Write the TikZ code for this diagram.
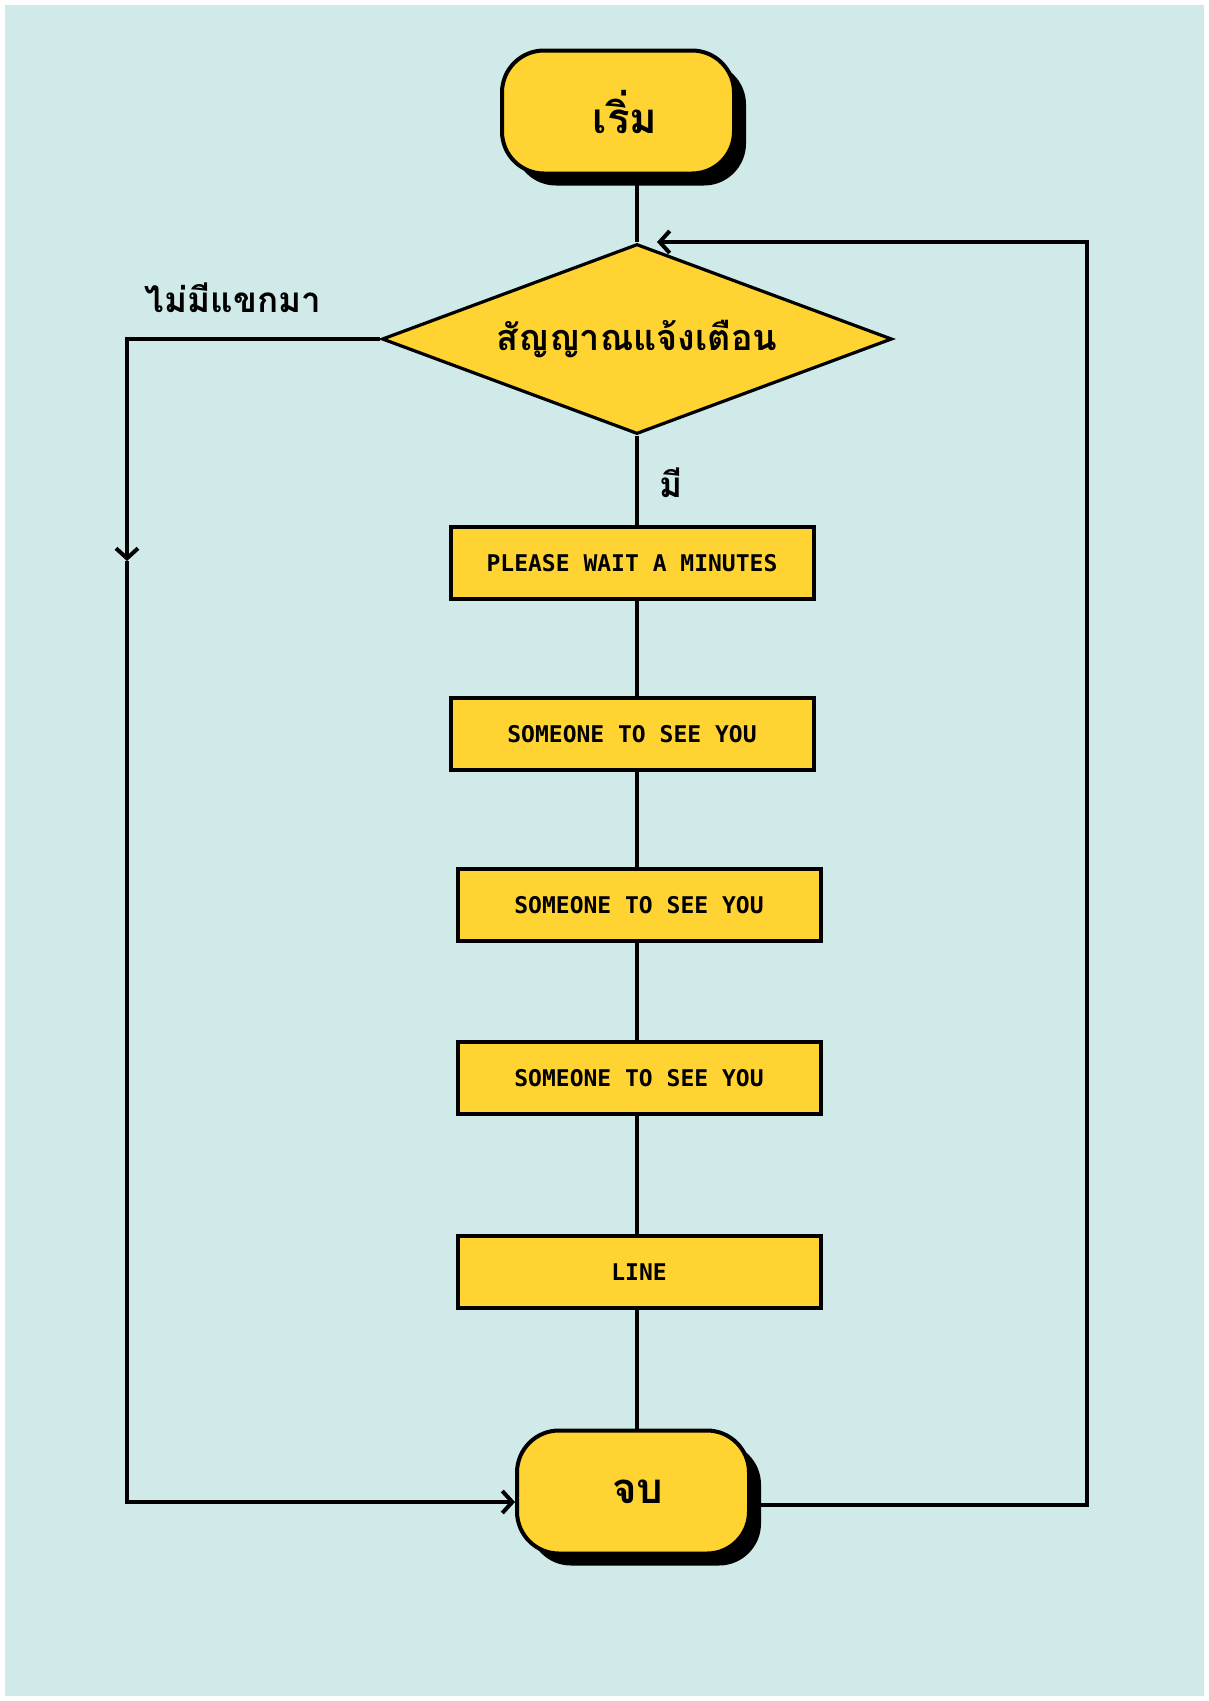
\documentclass[tikz,border=0pt]{standalone}
\usepackage{fontspec}
\usetikzlibrary{shapes.geometric,shadows,arrows.meta}
\newfontfamily\thaifont[Script=Thai]{Loma}
\newfontfamily\lcdfont{DejaVu Sans Mono}
\definecolor{bgcyan}{RGB}{208,234,234}
\definecolor{boxyellow}{RGB}{255,211,49}
\begin{document}
\begin{tikzpicture}[x=1pt, y=-1pt, line width=4pt, >={Straight Barb[length=10pt,width=22pt]},
  term node/.style={rounded corners=42pt, draw, fill=boxyellow, minimum width=232pt, minimum height=123pt,
    drop shadow={shadow xshift=12pt, shadow yshift=-12pt, fill=black, opacity=1}, font=\thaifont\bfseries\fontsize{42}{50}\selectfont},
  check node/.style={diamond, draw, fill=boxyellow, minimum width=510pt, minimum height=190pt, inner sep=0pt, line width=3.2pt,
    label={[font=\thaifont\bfseries\fontsize{36}{44}\selectfont]center:#1}},
  work node/.style={rectangle, draw, fill=boxyellow, minimum width=363pt, minimum height=72pt, inner sep=0pt,
    font=\lcdfont\bfseries\fontsize{23}{28}\selectfont},
  side label/.style={font=\thaifont\bfseries\fontsize{35}{44}\selectfont}]
\useasboundingbox (0,0) rectangle (1209,1701);
\fill[bgcyan] (5,5) rectangle (1204,1696);
% main column
\node [term node](start) at (618,112) {\hspace*{14pt}เริ่ม};
\node [check node={สัญญาณแจ้งเตือน}](alarm) at (637,339) {};
\node [work node](w1) at (632,563) {PLEASE WAIT A MINUTES};
\node [work node](w2) at (632,734) {SOMEONE TO SEE YOU};
\node [work node](w3) at (639,905) {SOMEONE TO SEE YOU};
\node [work node](w4) at (639,1078) {SOMEONE TO SEE YOU};
\node [work node](w5) at (639,1272) {LINE};
\node [term node](stop) at (633,1492) {\hspace*{10pt}จบ};
\node [side label](no) at (233,298) {ไม่มีแขกมา};
\node [side label](yes) at (671,483) {มี};
% turning points
\coordinate (l1) at (127,339);
\coordinate (l2) at (127,561);
\coordinate (l3) at (127,1502);
\coordinate (r1) at (1087,1505);
\coordinate (r2) at (1087,242);
\coordinate (r3) at (657,242);
\path
  (start.south -| alarm.north) edge (alarm.north)
  (alarm.south) edge (w1.north -| alarm.south)
  (w1.south -| alarm.south) edge (w2.north -| alarm.south)
  (w2.south -| alarm.south) edge (w3.north -| alarm.south)
  (w3.south -| alarm.south) edge (w4.north -| alarm.south)
  (w4.south -| alarm.south) edge (w5.north -| alarm.south)
  (w5.south -| alarm.south) edge (stop.north -| alarm.south)
  ;
\draw[->] (alarm.west) -- (l1) -- (l2);
\draw[->] (l2) -- (l3) -- (stop.west |- l3);
\draw[->] (stop.east |- r1) -- (r1) -- (r2) -- (r3);
\end{tikzpicture}
\end{document}
